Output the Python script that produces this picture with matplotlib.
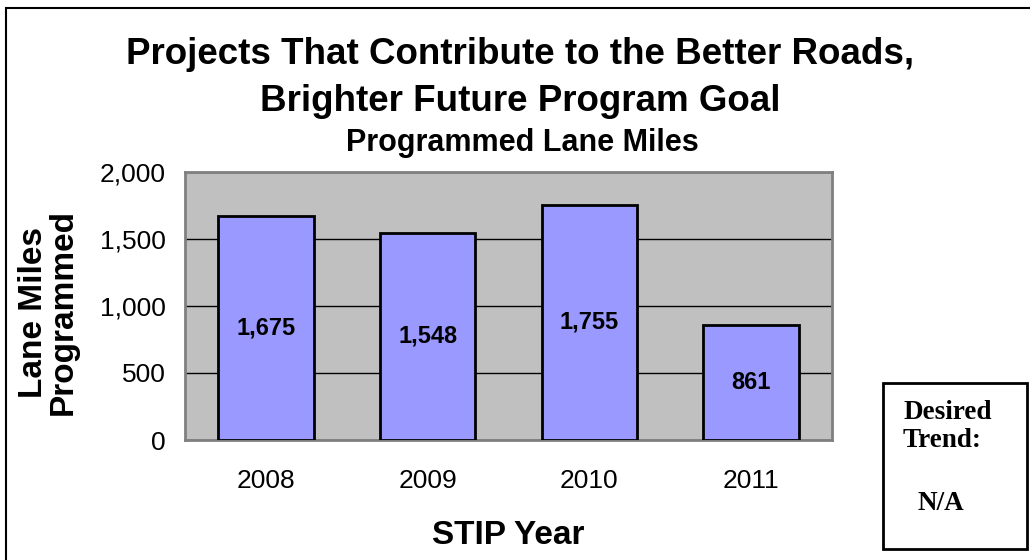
import matplotlib
matplotlib.use("Agg")
import matplotlib.pyplot as plt
from matplotlib.patches import Rectangle
from matplotlib.ticker import FuncFormatter

# ── Data ───────────────────────────────────────────────────────────────────────
years = ["2008", "2009", "2010", "2011"]
lane_miles = [1675, 1548, 1755, 861]
y_ticks = [0, 500, 1000, 1500, 2000]

plt.rcParams["font.family"] = ["Liberation Sans", "DejaVu Sans"]

fig = plt.figure(figsize=(10.3, 5.6), dpi=100)
ax = fig.add_axes([185 / 1030, 1 - 440 / 560, 647 / 1030, 268 / 560])

ax.set_facecolor("#C0C0C0")
x = range(len(years))
bars = ax.bar(
    x,
    lane_miles,
    width     = 0.59,
    color     = "#9999FF",
    edgecolor = "black",
    linewidth = 2,
    zorder    = 3
)

ax.set_xlim(-0.5, len(years) - 0.5)
ax.set_ylim(0, 2000)
ax.set_yticks(y_ticks)
ax.yaxis.set_major_formatter(FuncFormatter(lambda v, p: f"{int(v):,}"))
ax.set_xticks(list(x))
ax.set_xticklabels(years)
ax.tick_params(axis="y", length=0, pad=14, labelsize=19)
ax.tick_params(axis="x", length=0, pad=21, labelsize=19)
ax.grid(axis="y", color="black", linewidth=1, zorder=1)
for s in ax.spines.values():
    s.set_color("#808080")
    s.set_linewidth(2)

# value labels in the middle of each bar
for xi, v in zip(x, lane_miles):
    ax.text(xi, v / 2, f"{v:,}", ha="center", va="center",
            fontsize=17, fontweight="bold", zorder=4)

ax.set_xlabel("STIP Year", fontsize=24, fontweight="bold", labelpad=19)

# y label, two lines
fig.text(48 / 1030, 1 - 312 / 560, "Lane Miles\nProgrammed", rotation=90,
         ha="center", va="center", fontsize=24, fontweight="bold",
         linespacing=0.95)

# titles
fig.text(520 / 1030, 1 - 64 / 560, "Projects That Contribute to the Better Roads,",
         ha="center", va="baseline", fontsize=26.5, fontweight="bold")
fig.text(520 / 1030, 1 - 111 / 560, "Brighter Future Program Goal",
         ha="center", va="baseline", fontsize=26.5, fontweight="bold")
fig.text(522 / 1030, 1 - 151 / 560, "Programmed Lane Miles",
         ha="center", va="baseline", fontsize=22, fontweight="bold")

# outer border (only left and top visible in the picture)
fig.patches.append(Rectangle((6 / 1030, -0.1), 1.2, 1 - 8 / 560 + 0.1,
                             transform=fig.transFigure, fill=False,
                             edgecolor="black", linewidth=1.5))

# desired trend box
fig.patches.append(Rectangle((883 / 1030, 1 - 549 / 560), 144 / 1030, 166 / 560,
                             transform=fig.transFigure, fill=False,
                             edgecolor="black", linewidth=2))
serif = dict(ha="left", va="baseline", fontsize=19.5, fontweight="bold",
             family="Liberation Serif")
fig.text(903 / 1030, 1 - 419 / 560, "Desired", **serif)
fig.text(903 / 1030, 1 - 447 / 560, "Trend:", **serif)
fig.text(918 / 1030, 1 - 510 / 560, "N/A", **serif)

plt.savefig("out.png")
plt.close()
